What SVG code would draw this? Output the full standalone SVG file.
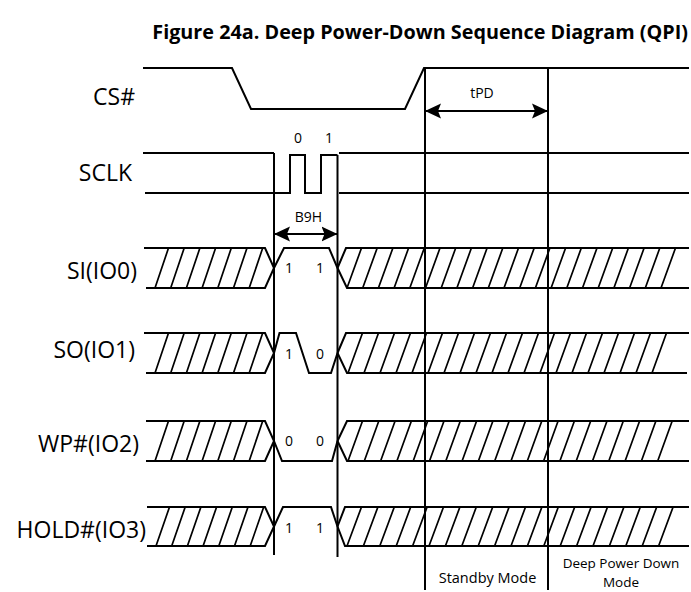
<svg xmlns="http://www.w3.org/2000/svg" width="691" height="592" viewBox="0 0 691 592">
<style>
.w{fill:none;stroke:#000;stroke-width:2;stroke-linejoin:miter}
.h{fill:none;stroke:#000;stroke-width:1.7}
.t{font-family:"Open Sans","Liberation Sans",sans-serif;fill:#000}
.lbl{font-size:23px;text-anchor:end}
.s{font-size:14px;text-anchor:middle}
.m{font-size:14.5px;text-anchor:middle}
.m2{font-size:13.5px;text-anchor:middle}
.title{font-size:19.8px;font-weight:bold;text-anchor:end}
</style>
<defs>
<marker id="ah" viewBox="0 0 16 18" markerUnits="userSpaceOnUse" markerWidth="16" markerHeight="18" refX="16" refY="9" orient="auto-start-reverse">
<path d="M16 9L0 1.5L3 9L0 16.5Z" fill="#000"/>
</marker>
</defs>
<rect width="691" height="592" fill="#fff"/>
<text class="t title" x="688" y="39">Figure 24a. Deep Power-Down Sequence Diagram (QPI)</text>

<g id="cs">
<text class="t lbl" x="135" y="105">CS#</text>
<path class="w" d="M143 68H232L251 109H405L424 68H689"/>
</g>

<g id="sclk">
<text class="t lbl" x="132" y="181">SCLK</text>
<path class="w" d="M143 153H274M145 193H290V155H305V193H321V155H337.5M339 153H689M339 193H689"/>
<text class="t s" x="298" y="143">0</text>
<text class="t s" x="329" y="143">1</text>
</g>

<g id="si">
<text class="t lbl" x="137" y="279">SI(IO0)</text>
<path class="w" d="M144 248H265L274 268L265 288H146M274 268L284 248H329L337.5 268M337.5 268L346 248H689M337.5 268L347 288H689"/>
<path class="h" d="M155 288l13.5-40M170.7 288l13.5-40M186.4 288l13.5-40M202.1 288l13.5-40M217.8 288l13.5-40M233.5 288l13.5-40M249.2 288l13.5-40"/>
<path class="h" d="M347 288l14.5-40M362.7 288l14.5-40M378.4 288l14.5-40M394.1 288l14.5-40M409.8 288l14.5-40M425.5 288l14.5-40M441.2 288l14.5-40M456.9 288l14.5-40M472.6 288l14.5-40M488.3 288l14.5-40M504 288l14.5-40M519.7 288l14.5-40M535.4 288l14.5-40M551.1 288l14.5-40M566.8 288l14.5-40M582.5 288l14.5-40M598.2 288l14.5-40M613.9 288l14.5-40M629.6 288l14.5-40M645.3 288l14.5-40M661 288l14.5-40"/>
<text class="t s" x="289" y="273">1</text>
<text class="t s" x="320" y="273">1</text>
</g>

<g id="so">
<text class="t lbl" x="135" y="358">SO(IO1)</text>
<path class="w" d="M144 333H265L274 353L265 373H146M274 353L279.5 333H296L309 373H331L337.5 353M337.5 353L346 333H689M337.5 353L347 373H687"/>
<path class="h" d="M155 373l13.5-40M170.7 373l13.5-40M186.4 373l13.5-40M202.1 373l13.5-40M217.8 373l13.5-40M233.5 373l13.5-40M249.2 373l13.5-40"/>
<path class="h" d="M348 373l14.5-40M364 373l14.5-40M380 373l14.5-40M396 373l14.5-40M412 373l14.5-40M428 373l14.5-40M444 373l14.5-40M460 373l14.5-40M476 373l14.5-40M492 373l14.5-40M508 373l14.5-40M524 373l14.5-40M540 373l14.5-40M556 373l14.5-40M572 373l14.5-40M588 373l14.5-40M604 373l14.5-40M620 373l14.5-40M636 373l14.5-40M652 373l14.5-40"/>
<text class="t s" x="289" y="359">1</text>
<text class="t s" x="320" y="359">0</text>
</g>

<g id="wp">
<text class="t lbl" x="139" y="452">WP#(IO2)</text>
<path class="w" d="M146 421H265L274 441L265 461H146M274 441L282 461H332L337.5 441M337.5 441L347 421H689M337.5 441L347 461H689"/>
<path class="h" d="M155 461l13.5-40M170.7 461l13.5-40M186.4 461l13.5-40M202.1 461l13.5-40M217.8 461l13.5-40M233.5 461l13.5-40M249.2 461l13.5-40"/>
<path class="h" d="M348 461l14.5-40M364.3 461l14.5-40M380.6 461l14.5-40M396.9 461l14.5-40M413.2 461l14.5-40M429.5 461l14.5-40M445.8 461l14.5-40M462.1 461l14.5-40M478.4 461l14.5-40M494.7 461l14.5-40M511 461l14.5-40M527.3 461l14.5-40M543.6 461l14.5-40M559.9 461l14.5-40M576.2 461l14.5-40M592.5 461l14.5-40M608.8 461l14.5-40M625.1 461l14.5-40M641.4 461l14.5-40M657.7 461l14.5-40"/>
<text class="t s" x="289" y="446">0</text>
<text class="t s" x="320" y="446">0</text>
</g>

<g id="hold">
<text class="t lbl" x="146" y="538">HOLD#(IO3)</text>
<path class="w" d="M147 507H265L274 526.5L265 546H147M274 526.5L283 507H331L337.5 526.5M337.5 526.5L345 507H689M337.5 526.5L345 546H689"/>
<path class="h" d="M156 546l13.5-39M171.7 546l13.5-39M187.4 546l13.5-39M203.1 546l13.5-39M218.8 546l13.5-39M234.5 546l13.5-39M250.2 546l13.5-39"/>
<path class="h" d="M347 546l14.5-39M363.4 546l14.5-39M379.8 546l14.5-39M396.2 546l14.5-39M412.6 546l14.5-39M429 546l14.5-39M445.4 546l14.5-39M461.8 546l14.5-39M478.2 546l14.5-39M494.6 546l14.5-39M511 546l14.5-39M527.4 546l14.5-39M543.8 546l14.5-39M560.2 546l14.5-39M576.6 546l14.5-39M593 546l14.5-39M609.4 546l14.5-39M625.8 546l14.5-39M642.2 546l14.5-39M658.6 546l14.5-39"/>
<text class="t s" x="289" y="533">1</text>
<text class="t s" x="320" y="533">1</text>
</g>

<g id="markers">
<path class="w" d="M274 153V555M337.5 155V557M425 68V590M548 68V590"/>
<text class="t m" x="487.5" y="583">Standby Mode</text>
<text class="t m2" x="621" y="568">Deep Power Down</text>
<text class="t m2" x="621" y="587">Mode</text>
</g>

<g id="connectors">
<line class="w" x1="274" y1="234" x2="337.5" y2="234" marker-start="url(#ah)" marker-end="url(#ah)"/>
<text class="t s" x="308.5" y="222">B9H</text>
<line class="w" x1="425" y1="111" x2="548" y2="111" marker-start="url(#ah)" marker-end="url(#ah)"/>
<text class="t s" x="482" y="98">tPD</text>
</g>
</svg>
